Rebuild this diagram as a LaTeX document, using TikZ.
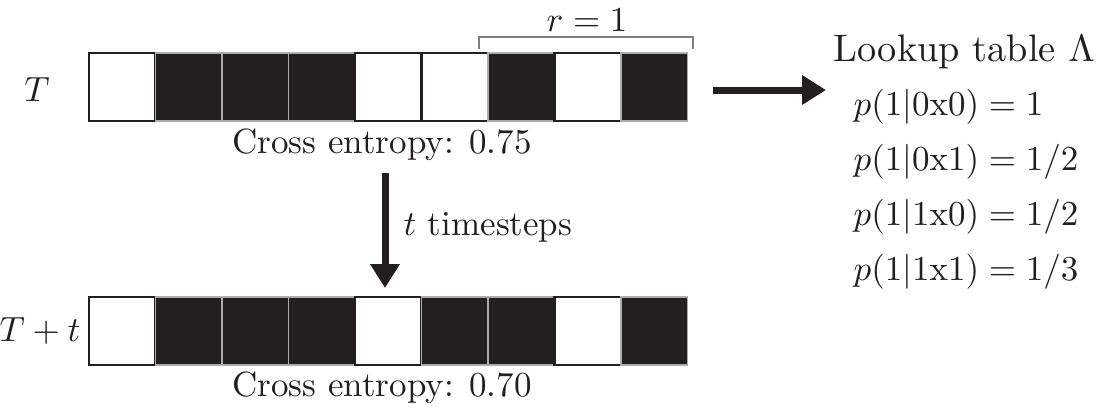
\documentclass[tikz,border=0pt]{standalone}
\usetikzlibrary{arrows.meta}
\definecolor{ink}{HTML}{231F20}
\begin{document}
\begin{tikzpicture}[x=0.2857pt,y=-0.2857pt,
  bcell/.style={draw=gray!65,fill=ink,line width=0.35pt,minimum width=19pt,minimum height=19.43pt,inner sep=0pt,outer sep=0pt},
  wcell/.style={draw=ink,fill=white,line width=0.7pt,minimum width=19pt,minimum height=19.43pt,inner sep=0pt,outer sep=0pt},
  bigarrow/.style={draw=ink,line width=2pt,-{Triangle[length=6.8pt,width=8pt]}},
  lbl/.style={inner sep=0pt,text=ink},
  brk/.style={draw=gray,line width=0.5pt}]
\useasboundingbox (0,0) rectangle (1097,411);
% top row
\foreach \s [count=\i] in {wcell,bcell,bcell,bcell,wcell,wcell,bcell,wcell,bcell}
  \node[\s] (u\i) at ({89+66.5*(\i-0.5)},87) {};
% bottom row
\foreach \s [count=\i] in {wcell,bcell,bcell,bcell,wcell,bcell,bcell,wcell,bcell}
  \node[\s] (b\i) at ({89+66.5*(\i-0.5)},331) {};
% labels
\node[lbl] (tT) at (37,90) {$T$};
\node[lbl] (tTt) at (40,331) {$T+t$};
\node[lbl,anchor=base] (ce1) at (382,153) {Cross entropy: 0.75};
\node[lbl,anchor=base] (ce2) at (382,396) {Cross entropy: 0.70};
\node[lbl,anchor=base] (r1) at (587,31) {$r=1$};
% bracket
\coordinate (k1) at (479,49);
\coordinate (k2) at (693,49);
\draw[brk] (k1) -- ++(0,-12) -| (k2);
% down arrow
\coordinate (d0) at (385,173);
\coordinate (d1) at (385,288);
\draw[bigarrow] (d0) -- (d1);
\node[lbl,anchor=base west] (ts) at (403,235) {$t$ timesteps};
% right arrow
\coordinate (a0) at (713,90);
\coordinate (a1) at (826,90);
\draw[bigarrow] (a0) -- (a1);
% lookup table
\node[lbl,anchor=base west] (lt) at (833,61) {\fontsize{10.95}{13}\selectfont Lookup table $\Lambda$};
\node[lbl,anchor=base west] (p1) at (853,115) {$p(1|0\mathrm{x}0)=1$};
\node[lbl,anchor=base west] (p2) at (853,170) {$p(1|0\mathrm{x}1)=1/2$};
\node[lbl,anchor=base west] (p3) at (853,225) {$p(1|1\mathrm{x}0)=1/2$};
\node[lbl,anchor=base west] (p4) at (853,280) {$p(1|1\mathrm{x}1)=1/3$};
\end{tikzpicture}
\end{document}
